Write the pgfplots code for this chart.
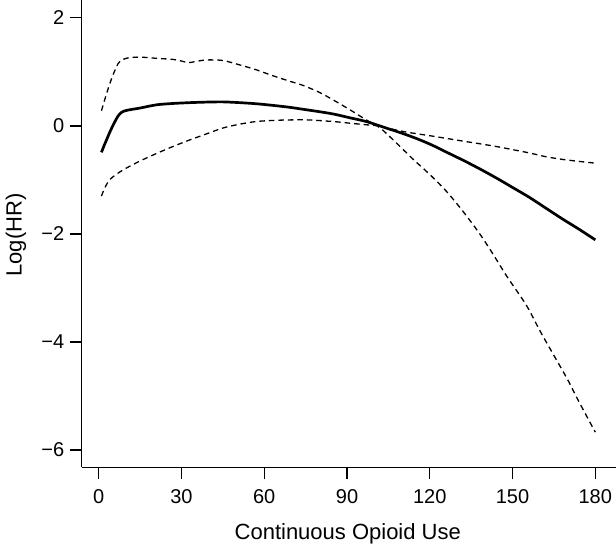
\documentclass[border=0pt]{standalone}
\usepackage{pgfplots}
\pgfplotsset{compat=1.18}
\usepackage{fontspec}
\setmainfont{Liberation Sans}
\begin{document}
\begin{tikzpicture}
\useasboundingbox (-81.7pt,-79.7pt) rectangle (534.3pt,467.3pt);
\begin{axis}[
  at={(0,0)}, anchor=south west,
  scale only axis, width=534.3pt, height=467.3pt,
  xmin=-6.16, xmax=187.5, ymin=-6.32, ymax=2.33,
  axis x line*=bottom, axis y line*=left,
  axis line style={line width=1.3pt, -},
  every tick/.style={black, line width=1.3pt},
  tick align=outside, major tick length=12pt,
  xtick={0,30,60,90,120,150,180},
  ytick={-6,-4,-2,0,2},
  yticklabels={−6,−4,−2,0,2},
  /pgf/number format/assume math mode=true,
  tick label style={font=\fontsize{20}{24}\selectfont},
  xticklabel style={anchor=north, yshift=-7pt},
  yticklabel style={anchor=east, xshift=-2pt},
  every axis x label/.style={at={(axis description cs:0.498,0)}, anchor=base, yshift=-71.7pt, font=\fontsize{22}{26}\selectfont},
  every axis y label/.style={at={(axis description cs:0,0.497)}, xshift=-60pt, rotate=90, anchor=base, font=\fontsize{22}{26}\selectfont},
  xlabel={Continuous Opioid Use},
  ylabel={Log(HR)},
]
\addplot[black, line width=2.7pt, smooth] coordinates {
(1,-0.49) (2,-0.36) (3,-0.24) (4,-0.12) (5,-0.01) (6,0.09) (7,0.18) (8,0.24) (9,0.27) (10,0.285) (12,0.305) (15,0.33)
(21,0.39) (27,0.415) (33,0.43) (39,0.44) (45,0.444) (51,0.43) (57,0.41) (63,0.38) (69,0.345) (73,0.315)
(79,0.27) (85,0.22) (91,0.15) (97,0.08) (103,-0.02) (109,-0.12) (115,-0.23) (121,-0.36) (127,-0.51) (133,-0.66)
(139,-0.82) (145,-0.99) (150,-1.14) (156,-1.32) (162,-1.52) (168,-1.72) (174,-1.91) (180,-2.11)
};
\addplot[black, line width=1.3pt, dash pattern=on 5.5pt off 4pt, smooth] coordinates {
(1,0.28) (3,0.62) (5,0.92) (7,1.15) (8,1.21) (10,1.25) (12,1.27) (16,1.27) (21,1.25) (27,1.23) (30,1.2)
(32.5,1.17) (35,1.19) (39,1.22) (45,1.21) (51,1.13) (57,1.04) (63,0.93) (69,0.83) (74,0.75) (80,0.62)
(85,0.48) (91,0.3) (97,0.11) (101,0) (103,-0.08) (109,-0.37) (114,-0.62) (120,-0.90) (126,-1.21)
(132,-1.58) (138,-1.99) (143,-2.38) (148,-2.79) (155,-3.32) (160,-3.80) (165,-4.25) (170,-4.70) (174,-5.10) (180,-5.67)
};
\addplot[black, line width=1.3pt, dash pattern=on 5.5pt off 4pt, smooth] coordinates {
(1,-1.30) (2,-1.17) (3.5,-1.03) (5,-0.95) (9,-0.81) (15,-0.65) (21,-0.51) (27,-0.38) (33,-0.26) (39,-0.15)
(45,-0.04) (51,0.03) (57,0.08) (63,0.10) (69,0.11) (76,0.11) (85,0.08) (91,0.05) (97,0.02) (101,0)
(109,-0.09) (114,-0.135) (121,-0.19) (127,-0.24) (133,-0.29) (138,-0.33) (145,-0.39) (150,-0.44)
(156,-0.5) (162,-0.57) (168,-0.62) (174.5,-0.66) (180,-0.69)
};
\end{axis}
\end{tikzpicture}
\end{document}
